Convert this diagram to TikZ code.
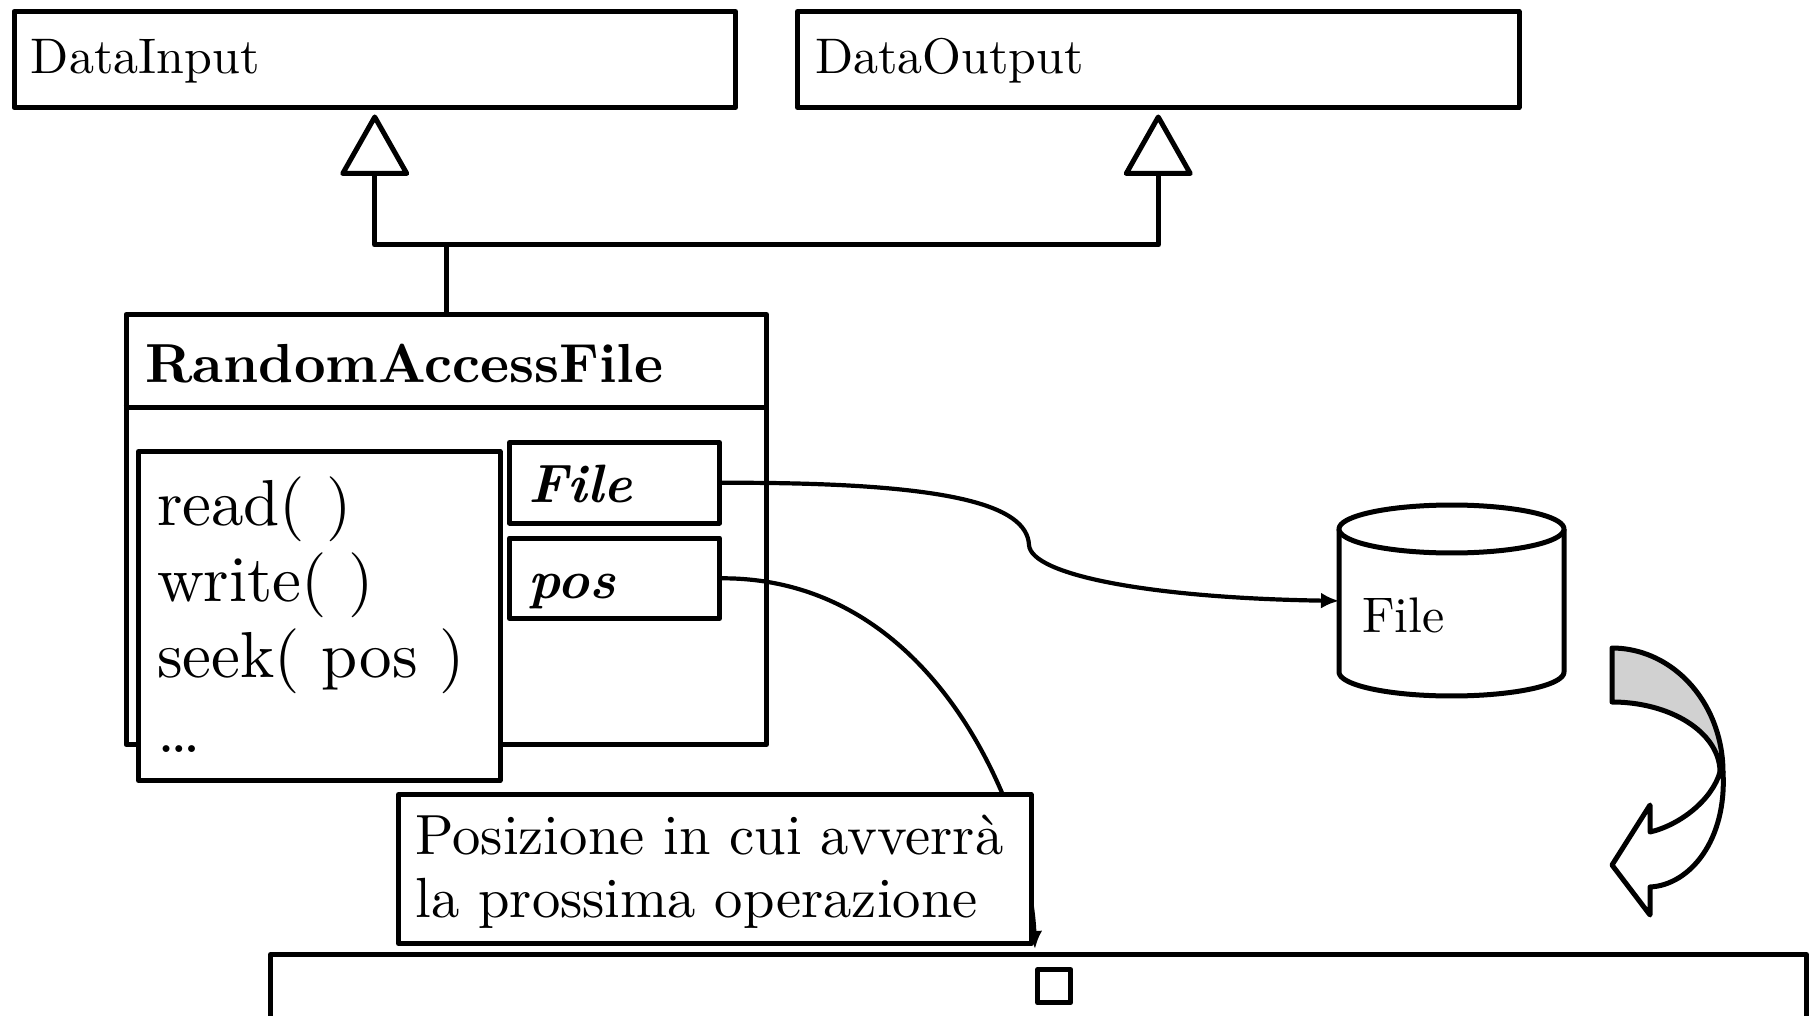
\documentclass[tikz,border=0pt]{standalone}
\usepackage{fontspec}
\setmainfont{lmroman10-regular.otf}[
  BoldFont=lmroman10-bold.otf,
  ItalicFont=lmroman10-italic.otf,
  BoldItalicFont=lmroman10-bolditalic.otf]
\usetikzlibrary{arrows.meta,calc}

\begin{document}
\begin{tikzpicture}[x=0.5pt,y=-0.5pt,
  line join=round,
  box/.style={draw, line width=2.5pt, fill=white, rectangle, inner sep=0pt, anchor=north west},
  hidden/.style={rectangle, inner sep=0pt, anchor=north west},
  edge/.style={line width=2.5pt},
  conn/.style={line width=2.1pt, -{Latex[length=9pt,width=8pt]}},
  lbl/.style={anchor=base west, inner sep=0pt, outer sep=0pt},
  fsmall/.style={font=\fontsize{25pt}{30pt}\selectfont},
  ftitle/.style={font=\fontsize{27.5pt}{32pt}\selectfont\bfseries},
  fmeth/.style={font=\fontsize{32.5pt}{38pt}\selectfont},
  fattr/.style={font=\fontsize{27pt}{32pt}\selectfont\bfseries\itshape},
  fnote/.style={font=\fontsize{28.3pt}{32pt}\selectfont}]

\useasboundingbox (0,0) rectangle (1810,1016);

% interfaces
\node[box, minimum width=360.75pt, minimum height=48pt] (din)  at (11.5,9) {};
\node[box, minimum width=360.75pt, minimum height=48pt] (dout) at (795,9) {};
\node[lbl, fsmall] (dinT)  at (31,74)  {DataInput};
\node[lbl, fsmall] (doutT) at (815,74) {DataOutput};

% class RandomAccessFile
\node[box, minimum width=320.25pt, minimum height=215pt] (raf) at (123.5,312) {};
\draw[edge] ($(raf.north west)+(0,95.5)$) -- ($(raf.north east)+(0,95.5)$);
\node[lbl, ftitle] (rafT) at (145.5,382) {RandomAccessFile};

% realisation of both interfaces
\coordinate (tA) at ($(din.south)+(0,7)$);
\coordinate (tB) at ($(dout.south)+(0,7)$);
\coordinate (jA) at ($(tA)+(0,128)$);
\coordinate (jB) at ($(tB)+(0,128)$);
\draw[edge] ($(tA)+(0,56.5)$) -- (jA) -- (jB) -- ($(tB)+(0,56.5)$);
\draw[edge] (raf.north) -- (raf.north |- jA);
\draw[edge, fill=white] (tA) -- ++(-32,56.5) -- ++(64,0) -- cycle;
\draw[edge, fill=white] (tB) -- ++(-32,56.5) -- ++(64,0) -- cycle;

% methods
\node[box, minimum width=180.75pt, minimum height=164.5pt] (meth) at (136,449) {};
\node[lbl, fmeth] (m1) at (157,525)   {read( )};
\node[lbl, fmeth] (m2) at (157,601)   {write( )};
\node[lbl, fmeth] (m3) at (157,677.6) {seek( pos )};
\node[lbl, fmeth] (m4) at (157,752)   {\ldots};

% attributes
\node[box, minimum width=105pt, minimum height=40.3pt] (fattr) at (507,440) {};
\node[box, minimum width=105pt, minimum height=40.2pt] (pattr) at (507,535.6) {};
\node[lbl, fattr] (fattrT) at (528.6,502) {File};
\node[lbl, fattr] (pattrT) at (528.6,598) {pos};

% file on disk
\node[hidden, minimum width=112.5pt, minimum height=71.5pt] (cyl) at (1339,529) {};
\draw[edge, fill=white] (1339,529) -- (1339,672)
  -- plot[domain=180:0, samples=50] ({1451.5+112.5*cos(\x)},{672+24*sin(\x)})
  -- (1564,529);
\draw[edge, fill=white] plot[domain=0:360, samples=80] ({1451.5+112.5*cos(\x)},{529+24*sin(\x)}) -- cycle;
\node[lbl, fsmall] (cylT) at (1362,632.6) {File};

% file contents and current position
\node[box, minimum width=768pt, minimum height=40pt] (bar) at (268,952) {};
\node[box, line width=2.6pt, minimum width=16.5pt, minimum height=16.5pt] (cursor) at (1035,967) {};
\coordinate (slot) at (1035,949);

% connectors
\draw[conn] (fattr.east) .. controls (950,482) and (1027,505) .. (1029,545)
  .. controls (1031,575) and (1150,598) .. (cyl.west);
\draw[conn] (pattr.east) .. controls (870,578) and (960,690) .. (1005,800)
  .. controls (1022,845) and (1033,900) .. (slot);

% note
\node[box, minimum width=316.25pt, minimum height=74.5pt] (note) at (396,792) {};
\node[lbl, fnote] (n1) at (415.5,854)   {Posizione in cui avverrà};
\node[lbl, fnote] (n2) at (415.5,917.7) {la prossima operazione};

% curved block arrow
\draw[edge, fill=black!18]
  plot[domain=-90:0, samples=40] ({1612+111*cos(\x)},{772+124*sin(\x)})
  -- plot[domain=0:-90, samples=40] ({1612+108*cos(\x)},{772+70*sin(\x)})
  -- cycle;
\draw[edge, fill=white] (1723,772) .. controls (1727,840) and (1690,885) .. (1650,887)
  -- (1650,915) -- (1612,865) -- (1650,805) -- (1650,832)
  .. controls (1680,825) and (1712,800) .. (1720,772) -- cycle;

\end{tikzpicture}
\end{document}
